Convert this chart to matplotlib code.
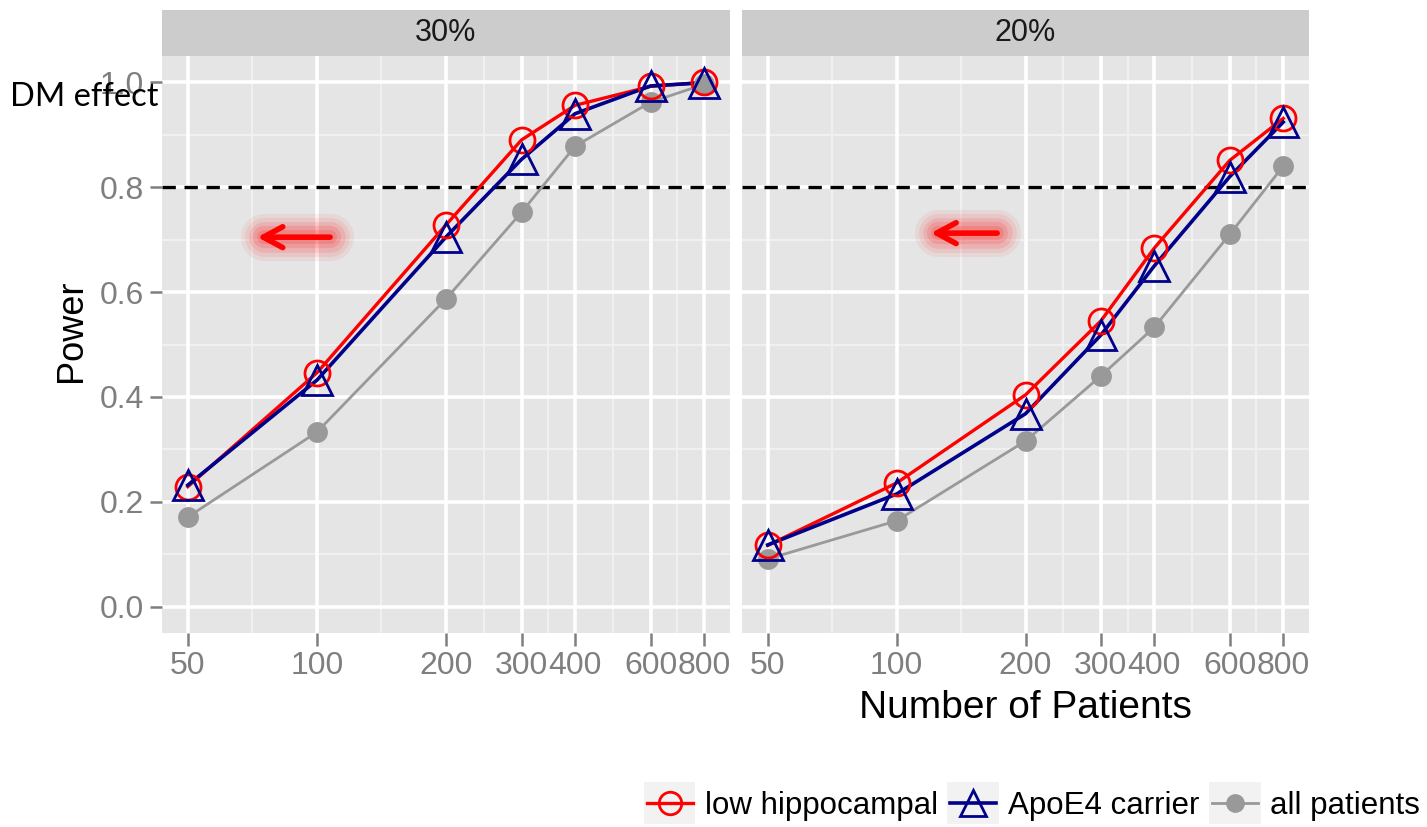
import matplotlib
matplotlib.use('Agg')
import matplotlib.pyplot as plt
import numpy as np
from matplotlib.legend_handler import HandlerBase
from matplotlib.patches import Rectangle
from matplotlib.lines import Line2D

# ---------------- data ----------------
n_patients = [50, 100, 200, 300, 400, 600, 800]
panel_titles = ['30%', '20%']
series_names = ['low hippocampal', 'ApoE4 carrier', 'all patients']

low_hippo_30 = [0.229, 0.446, 0.728, 0.890, 0.956, 0.992, 1.000]
apoe4_30     = [0.232, 0.432, 0.705, 0.853, 0.940, 0.993, 0.999]
all_30       = [0.171, 0.333, 0.587, 0.752, 0.878, 0.962, 0.996]

low_hippo_20 = [0.117, 0.236, 0.404, 0.545, 0.684, 0.851, 0.931]
apoe4_20     = [0.118, 0.215, 0.368, 0.518, 0.650, 0.820, 0.924]
all_20       = [0.091, 0.164, 0.316, 0.440, 0.533, 0.710, 0.840]

x_tick_values = [50, 100, 200, 300, 400, 600, 800]
x_tick_labels = ['50', '100', '200', '300', '400', '600', '800']
y_tick_values = [0.0, 0.2, 0.4, 0.6, 0.8, 1.0]
y_tick_labels = ['0.0', '0.2', '0.4', '0.6', '0.8', '1.0']
power_threshold = 0.8

panel_data = [
    [low_hippo_30, apoe4_30, all_30],
    [low_hippo_20, apoe4_20, all_20],
]

# ---------------- styles ----------------
FONT = 'Liberation Sans'
plt.rcParams['font.family'] = [FONT, 'DejaVu Sans']

RED = '#FF0000'
BLUE = '#00008B'
GRAY = '#999999'
styles = [
    dict(color=RED, marker='o', mfc='none', mec=RED, ms=18, mew=2.0, lw=2.4),
    dict(color=BLUE, marker='^', mfc='none', mec=BLUE, ms=21, mew=2.0, lw=2.6),
    dict(color=GRAY, marker='o', mfc=GRAY, mec=GRAY, ms=15, mew=0, lw=2.0),
]

W, H = 1427, 827
fig = plt.figure(figsize=(W / 100, H / 100), dpi=100)

def fx(px):
    return px / W

def fy(py):
    return 1 - py / H

panel_top, panel_bot = 56, 633
strip_top = 10
panels_px = [(162, 730), (742, 1309)]

xmin, xmax = np.log10(50), np.log10(800)
span = xmax - xmin
xlim = (10 ** (xmin - 0.05 * span), 10 ** (xmax + 0.05 * span))
ylim = (-0.05, 1.05)

# minor breaks: midpoints in log space between major ticks
lt = np.log10(x_tick_values)
x_minor = list(10 ** ((lt[:-1] + lt[1:]) / 2))
y_minor = [0.1, 0.3, 0.5, 0.7, 0.9]

axes = []
for i, (x0, x1) in enumerate(panels_px):
    ax = fig.add_axes([fx(x0), fy(panel_bot), fx(x1 - x0), (panel_bot - panel_top) / H])
    axes.append(ax)
    ax.set_facecolor('#E5E5E5')
    ax.set_xscale('log')
    ax.set_xlim(*xlim)
    ax.set_ylim(*ylim)
    for s in ax.spines.values():
        s.set_visible(False)
    # grid
    for xm in x_minor:
        ax.axvline(xm, color='#F2F2F2', lw=1.3, zorder=0.5)
    for ym in y_minor:
        ax.axhline(ym, color='#F2F2F2', lw=1.3, zorder=0.5)
    for xv in x_tick_values:
        ax.axvline(xv, color='white', lw=2.6, zorder=0.6)
    for yv in y_tick_values:
        ax.axhline(yv, color='white', lw=2.6, zorder=0.6)

    ax.set_xticks(x_tick_values)
    ax.set_xticklabels(x_tick_labels)
    ax.xaxis.set_minor_locator(matplotlib.ticker.NullLocator())
    ax.tick_params(axis='x', length=9, width=1.8, color='#7F7F7F', labelcolor='#7F7F7F',
                   labelsize=23, pad=4)
    if i == 0:
        ax.set_yticks(y_tick_values)
        ax.set_yticklabels(y_tick_labels)
        ax.tick_params(axis='y', length=9, width=1.8, color='#7F7F7F', labelcolor='#7F7F7F',
                       labelsize=23, pad=4)
    else:
        ax.set_yticks([])

    # reference line
    ax.axhline(power_threshold, color='black', lw=2.4, ls=(0, (4, 2.6)), zorder=1)

    # lines then points
    vals = panel_data[i]
    for k in [2, 0, 1]:
        st = styles[k]
        ax.plot(n_patients, vals[k], color=st['color'], lw=st['lw'], zorder=2 + k * 0.1)
    for z, k in enumerate([2, 0, 1]):
        st = styles[k]
        ax.plot(n_patients, vals[k], ls='none', marker=st['marker'], ms=st['ms'],
                mfc=st['mfc'], mec=st['mec'], mew=st['mew'], zorder=3 + z)

    # strip
    sax = fig.add_axes([fx(x0), fy(panel_top), fx(x1 - x0), (panel_top - strip_top) / H])
    sax.set_facecolor('#CCCCCC')
    sax.set_xticks([]); sax.set_yticks([])
    for s in sax.spines.values():
        s.set_visible(False)
    sax.text(0.5, 0.5, panel_titles[i], ha='center', va='center', fontsize=22,
             color='#1A1A1A', transform=sax.transAxes)

# red arrows with glow
arrow_pos = [((0.296, 0.686), (0.168, 0.686)), ((0.450, 0.693), (0.333, 0.693))]
for ax, (tail, tip) in zip(axes, arrow_pos):
    gx = [tip[0] + 0.012, tail[0]]
    gy = [tip[1], tail[1]]
    for lw, a in [(34, 0.06), (28, 0.08), (22, 0.10), (16, 0.12), (10, 0.14)]:
        ax.plot(gx, gy, color=RED, lw=lw, alpha=a, solid_capstyle='round',
                transform=ax.transAxes, zorder=6)
    ax.annotate('', xy=tip, xytext=tail, xycoords='axes fraction',
                arrowprops=dict(arrowstyle='->,head_length=1.4,head_width=0.75', color=RED, lw=4.0,
                                shrinkA=0, shrinkB=0, capstyle='round', joinstyle='round'), zorder=7)

# axis titles
fig.text(fx(72), fy((panel_top + panel_bot) / 2 - 14), 'Power', rotation=90, ha='center',
         va='center', fontsize=26, color='black')
fig.text(fx(1025), fy(708), 'Number of Patients', ha='center', va='center', fontsize=28,
         color='black')

# DM effect annotation
fig.text(fx(10), fy(97), 'DM effect', ha='left', va='center', fontsize=23.5,
         family=['Lato', 'DejaVu Sans'], color='black')

# legend with grey key backgrounds
class KeyHandler(HandlerBase):
    def __init__(self, st):
        super().__init__()
        self.st = st

    def create_artists(self, legend, orig_handle, xdescent, ydescent, width, height,
                       fontsize, trans):
        st = self.st
        pad_y = height * 0.25
        rect = Rectangle((-xdescent, -ydescent - pad_y), width, height + 2 * pad_y,
                         facecolor='#F2F2F2', edgecolor='none', transform=trans)
        yc = height / 2 - ydescent
        line = Line2D([-xdescent + 2, -xdescent + width - 2], [yc, yc], color=st['color'],
                      lw=st['lw'], transform=trans)
        mk = Line2D([-xdescent + width / 2], [yc], ls='none', marker=st['marker'],
                    ms=st['ms'] * 0.9, mfc=st['mfc'], mec=st['mec'], mew=st['mew'],
                    transform=trans)
        return [rect, line, mk]

handles = [Line2D([], []) for _ in series_names]
leg = fig.legend(handles, series_names, loc='center right', bbox_to_anchor=(0.995, fy(805)),
                 ncol=3, frameon=False, fontsize=22.5, borderaxespad=0, borderpad=0,
                 handlelength=1.65, handleheight=1.0, handletextpad=0.3, columnspacing=0.3,
                 handler_map={h: KeyHandler(st) for h, st in zip(handles, styles)})
for t in leg.get_texts():
    t.set_color('black')

fig.savefig('out.png', dpi=100)
